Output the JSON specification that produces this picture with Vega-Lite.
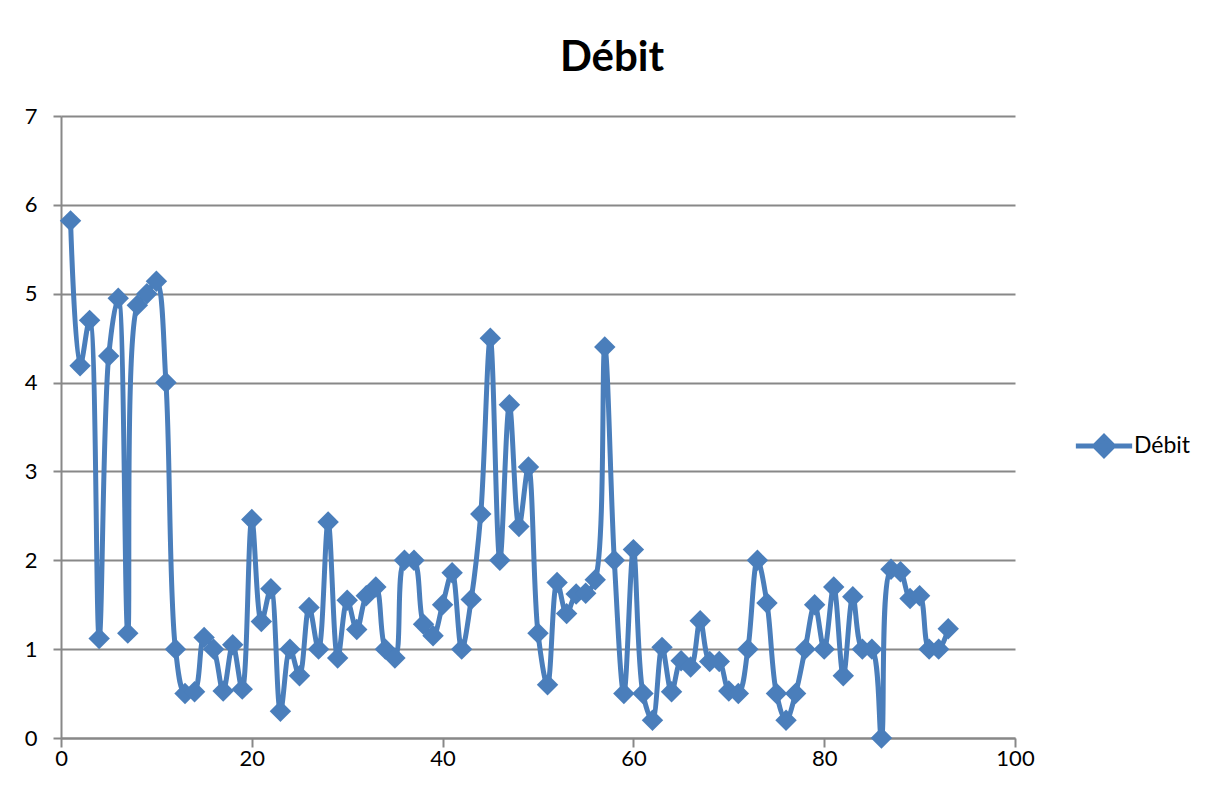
{
  "$schema": "https://vega.github.io/schema/vega-lite/v6.json",
  "width": 954,
  "height": 622,
  "autosize": "none",
  "padding": {"left": 61, "top": 116, "right": 203, "bottom": 62},
  "background": "white",
  "title": {
    "text": "Débit",
    "font": "Lato",
    "fontSize": 42,
    "fontWeight": "bold",
    "color": "black",
    "anchor": "middle",
    "frame": "group",
    "dx": 74,
    "offset": 25
  },
  "config": {
    "view": {"stroke": null},
    "font": "Lato"
  },
  "data": {
    "values": [
      {"x": 1, "y": 5.82}, {"x": 2, "y": 4.19}, {"x": 3, "y": 4.70}, {"x": 4, "y": 1.12}, {"x": 5, "y": 4.30},
      {"x": 6, "y": 4.95}, {"x": 7, "y": 1.18}, {"x": 8, "y": 4.87}, {"x": 9, "y": 5.00}, {"x": 10, "y": 5.14},
      {"x": 11, "y": 4.00}, {"x": 12, "y": 1.00}, {"x": 13, "y": 0.50}, {"x": 14, "y": 0.52}, {"x": 15, "y": 1.13},
      {"x": 16, "y": 1.00}, {"x": 17, "y": 0.53}, {"x": 18, "y": 1.05}, {"x": 19, "y": 0.55}, {"x": 20, "y": 2.46},
      {"x": 21, "y": 1.31}, {"x": 22, "y": 1.68}, {"x": 23, "y": 0.30}, {"x": 24, "y": 1.00}, {"x": 25, "y": 0.70},
      {"x": 26, "y": 1.47}, {"x": 27, "y": 1.00}, {"x": 28, "y": 2.43}, {"x": 29, "y": 0.90}, {"x": 30, "y": 1.55},
      {"x": 31, "y": 1.22}, {"x": 32, "y": 1.60}, {"x": 33, "y": 1.70}, {"x": 34, "y": 1.00}, {"x": 35, "y": 0.90},
      {"x": 36, "y": 2.00}, {"x": 37, "y": 2.00}, {"x": 38, "y": 1.28}, {"x": 39, "y": 1.15}, {"x": 40, "y": 1.50},
      {"x": 41, "y": 1.86}, {"x": 42, "y": 1.00}, {"x": 43, "y": 1.56}, {"x": 44, "y": 2.52}, {"x": 45, "y": 4.50},
      {"x": 46, "y": 2.00}, {"x": 47, "y": 3.75}, {"x": 48, "y": 2.38}, {"x": 49, "y": 3.05}, {"x": 50, "y": 1.18},
      {"x": 51, "y": 0.60}, {"x": 52, "y": 1.75}, {"x": 53, "y": 1.40}, {"x": 54, "y": 1.62}, {"x": 55, "y": 1.63},
      {"x": 56, "y": 1.78}, {"x": 57, "y": 4.40}, {"x": 58, "y": 2.00}, {"x": 59, "y": 0.50}, {"x": 60, "y": 2.12},
      {"x": 61, "y": 0.50}, {"x": 62, "y": 0.20}, {"x": 63, "y": 1.02}, {"x": 64, "y": 0.52}, {"x": 65, "y": 0.87},
      {"x": 66, "y": 0.80}, {"x": 67, "y": 1.32}, {"x": 68, "y": 0.86}, {"x": 69, "y": 0.86}, {"x": 70, "y": 0.53},
      {"x": 71, "y": 0.50}, {"x": 72, "y": 1.00}, {"x": 73, "y": 2.00}, {"x": 74, "y": 1.52}, {"x": 75, "y": 0.50},
      {"x": 76, "y": 0.20}, {"x": 77, "y": 0.50}, {"x": 78, "y": 1.00}, {"x": 79, "y": 1.50}, {"x": 80, "y": 1.00},
      {"x": 81, "y": 1.70}, {"x": 82, "y": 0.70}, {"x": 83, "y": 1.59}, {"x": 84, "y": 1.00}, {"x": 85, "y": 1.00},
      {"x": 86, "y": 0.00}, {"x": 87, "y": 1.90}, {"x": 88, "y": 1.87}, {"x": 89, "y": 1.57}, {"x": 90, "y": 1.60},
      {"x": 91, "y": 1.00}, {"x": 92, "y": 1.00}, {"x": 93, "y": 1.23}
    ]
  },
  "mark": {
    "type": "line",
    "strokeWidth": 5,
    "interpolate": "catmull-rom",
    "point": {"shape": "diamond", "size": 460, "filled": true, "opacity": 1}
  },
  "encoding": {
    "x": {
      "field": "x",
      "type": "quantitative",
      "scale": {"domain": [0, 100], "nice": false, "zero": true},
      "axis": {
        "title": null,
        "values": [0, 20, 40, 60, 80, 100],
        "grid": false,
        "domainColor": "#888888",
        "domainWidth": 2,
        "tickColor": "#888888",
        "tickWidth": 2,
        "tickSize": 9,
        "labelFontSize": 22,
        "labelColor": "black",
        "labelFont": "Lato",
        "labelFlush": false,
        "labelPadding": 1
      }
    },
    "y": {
      "field": "y",
      "type": "quantitative",
      "scale": {"domain": [0, 7], "nice": false},
      "axis": {
        "title": null,
        "values": [0, 1, 2, 3, 4, 5, 6, 7],
        "grid": true,
        "gridColor": "#888888",
        "gridWidth": 2,
        "domainColor": "#888888",
        "domainWidth": 2,
        "tickColor": "#888888",
        "tickWidth": 2,
        "tickSize": 8,
        "labelFontSize": 22,
        "labelColor": "black",
        "labelFont": "Lato",
        "labelPadding": 16
      }
    },
    "color": {
      "datum": "Débit",
      "type": "nominal",
      "scale": {"range": ["#4a7ebb"]},
      "legend": {
        "title": null,
        "orient": "none",
        "legendX": 1017,
        "legendY": 304,
        "symbolType": "M-1.2,0L1.2,0M-0.4,0L0,-0.4L0.4,0L0,0.4Z",
        "symbolSize": 2200,
        "symbolStrokeWidth": 5,
        "symbolFillColor": "#4a7ebb",
        "labelFontSize": 23,
        "labelFont": "Lato",
        "labelColor": "black",
        "labelOffset": 4
      }
    }
  }
}
